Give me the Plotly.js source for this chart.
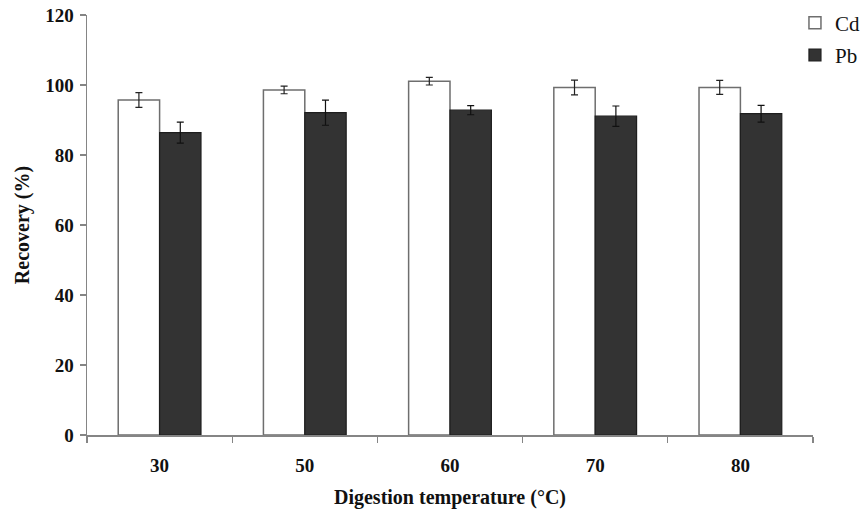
<!DOCTYPE html>
<html>
<head>
<meta charset="utf-8">
<script src="https://cdn.plot.ly/plotly-3.0.1.min.js"></script>
<style>html,body{margin:0;padding:0;background:#fff;}#chart{width:861px;height:509px;}</style>
</head>
<body>
<div id="chart"></div>
<script>
const temperatures = ["30", "50", "60", "70", "80"];
const cdRecovery = [95.7, 98.6, 101.1, 99.3, 99.3];
const cdError = [2.1, 1.1, 1.1, 2.1, 2.0];
const pbRecovery = [86.4, 92.1, 92.8, 91.1, 91.8];
const pbError = [3.0, 3.6, 1.3, 2.9, 2.4];
const yTicks = [0, 20, 40, 60, 80, 100, 120];

const serif = "'Liberation Serif', 'Times New Roman', serif";
const axisGray = "#858585";

const traces = [
  {
    type: "bar", name: "Cd", x: temperatures, y: cdRecovery, legendgroup: "cd",
    marker: {color: "#ffffff", line: {color: "#6e6e6e", width: 1.5}},
    error_y: {type: "data", array: cdError, visible: true, color: "#222222", thickness: 1.2, width: 3.5}
  },
  {
    type: "bar", name: "Pb", x: temperatures, y: pbRecovery, legendgroup: "pb",
    marker: {color: "#333333", line: {color: "#1e1e1e", width: 1.2}},
    error_y: {type: "data", array: pbError, visible: true, color: "#111111", thickness: 1.2, width: 3.5}
  }
];

const layout = {
  width: 861, height: 509,
  margin: {l: 87, r: 48, t: 15, b: 74, autoexpand: false},
  paper_bgcolor: "#ffffff", plot_bgcolor: "#ffffff",
  barmode: "group", bargap: 0.43, bargroupgap: 0,
  font: {family: serif, color: "#111111"},
  showlegend: true,
  legend: {xref: "container", yref: "container", x: 0.9233, xanchor: "left", y: 0.995, yanchor: "top",
           bgcolor: "rgba(0,0,0,0)", font: {family: serif, size: 21, color: "#111111"},
           tracegroupgap: 2, traceorder: "grouped"},
  xaxis: {
    type: "category", tickson: "boundaries", ticks: "outside", ticklen: 6, tickcolor: axisGray, tickwidth: 1.2,
    showline: true, linecolor: axisGray, linewidth: 1.5, showgrid: false, zeroline: false,
    ticklabelstandoff: 13,
    tickfont: {family: serif, size: 19, color: "#111111", weight: "bold"},
    title: {text: "<b>Digestion temperature (°C)</b>", font: {family: serif, size: 20, color: "#111111"}, standoff: 15}
  },
  yaxis: {
    range: [0, 120], tickvals: yTicks, ticks: "outside", ticklen: 6, tickcolor: axisGray, tickwidth: 1.2,
    showline: true, linecolor: axisGray, linewidth: 1.5, showgrid: false, zeroline: false,
    ticklabelstandoff: 2,
    tickfont: {family: serif, size: 19, color: "#111111", weight: "bold"},
    title: {text: "<b>Recovery (%)</b>", font: {family: serif, size: 20, color: "#111111"}, standoff: 10}
  }
};

Plotly.newPlot("chart", traces, layout, {displayModeBar: false, staticPlot: true});
</script>
</body>
</html>
